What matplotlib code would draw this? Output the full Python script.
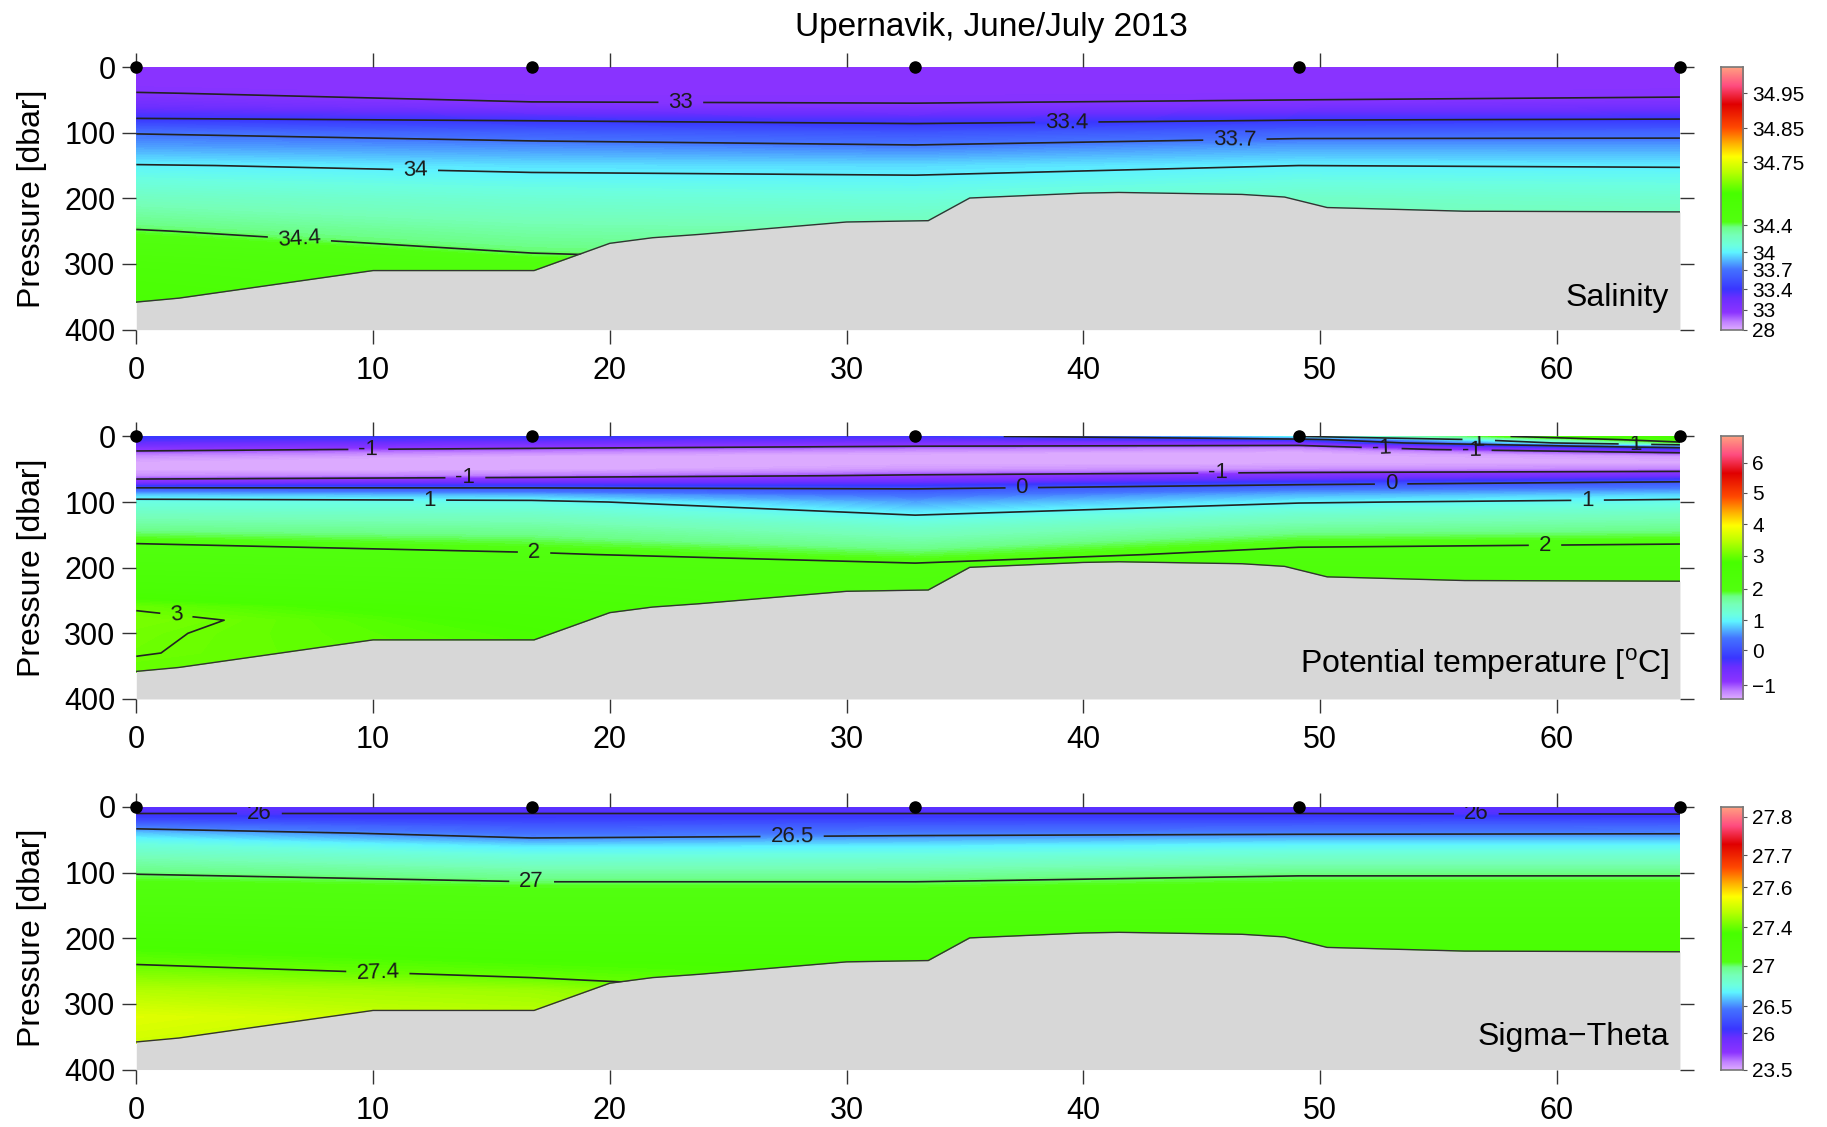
import numpy as np
import matplotlib
matplotlib.use('Agg')
from matplotlib import pyplot as plt
from matplotlib.colors import LinearSegmentedColormap

plt.rcParams['font.family'] = ['Liberation Sans', 'DejaVu Sans']
plt.rcParams['mathtext.fontset'] = 'custom'
plt.rcParams['mathtext.rm'] = 'Liberation Sans'

# Section geometry
stations_km = [0, 16.7, 32.9, 49.1, 65.2]
bottom_km = [0, 1.8, 10, 16.8, 20, 21.8, 23.75, 30, 33.45, 35.2, 40, 41.5, 46.7, 48.5, 50.3, 52, 56.1, 65.2]
bottom_dbar = [358, 352, 310, 310, 268.5, 260, 255, 236, 234, 199.5, 192, 191, 194, 198, 214, 215.6, 219.6, 220.6]

# Salinity profiles (one list per station)
sal_dbar = [0, 20, 40, 60, 80, 100, 120, 150, 200, 250, 300, 360]
salinity = [
    [32.6, 32.75, 33.02, 33.2, 33.42, 33.69, 33.8, 34.01, 34.22, 34.41, 34.5, 34.55],
    [32.6, 32.7, 32.85, 33.08, 33.38, 33.6, 33.76, 33.96, 34.15, 34.3, 34.45, 34.5],
    [32.6, 32.7, 32.85, 33.05, 33.33, 33.56, 33.71, 33.95, 34.12, 34.28, 34.4, 34.45],
    [32.6, 32.72, 32.88, 33.12, 33.39, 33.62, 33.8, 34.0, 34.2, 34.3, 34.4, 34.45],
    [32.65, 32.78, 32.94, 33.15, 33.41, 33.63, 33.8, 33.99, 34.17, 34.3, 34.4, 34.45],
]
sal_levels = [33, 33.4, 33.7, 34, 34.4]
sal_labels = [(23, 50), (39.3, 80), (46.4, 106), (11.8, 156), (6.9, 257)]
sal_ticks = [28, 33, 33.4, 33.7, 34, 34.4, 34.75, 34.85, 34.95]
sal_frac = [0, 0.076, 0.153, 0.229, 0.294, 0.397, 0.637, 0.767, 0.90]
sal_top = 35.03

# Potential temperature profiles
temp_dbar = [0, 5, 10, 15, 20, 25, 30, 40, 50, 60, 70, 80, 90, 100, 120, 140, 160, 180, 200, 230, 260, 280, 300, 330, 360]
temperature = [
    [-0.2, -0.35, -0.5, -0.7, -0.92, -1.1, -1.25, -1.4, -1.45, -1.25, -0.75, 0.15, 0.8, 1.15, 1.45, 1.7, 1.97, 2.15, 2.3, 2.55, 2.97, 3.08, 3.03, 3.01, 2.95],
    [-0.2, -0.4, -0.6, -0.85, -1.08, -1.25, -1.38, -1.5, -1.45, -1.15, -0.55, 0.1, 0.7, 1.1, 1.4, 1.65, 1.85, 2.03, 2.2, 2.4, 2.6, 2.72, 2.8, 2.85, 2.85],
    [-0.3, -0.5, -0.75, -1.0, -1.2, -1.35, -1.45, -1.5, -1.3, -0.95, -0.5, 0.0, 0.35, 0.6, 1.0, 1.35, 1.6, 1.85, 2.08, 2.2, 2.3, 2.35, 2.4, 2.4, 2.4],
    [1.0, -0.2, -0.7, -1.1, -1.3, -1.4, -1.5, -1.5, -1.25, -0.75, -0.2, 0.35, 0.7, 0.97, 1.35, 1.65, 1.92, 2.1, 2.25, 2.3, 2.35, 2.35, 2.4, 2.4, 2.4],
    [2.8, 2.4, 1.85, 0.4, -0.45, -1.0, -1.3, -1.45, -1.2, -0.6, 0.05, 0.45, 0.85, 1.1, 1.45, 1.7, 1.97, 2.12, 2.25, 2.3, 2.35, 2.35, 2.4, 2.4, 2.4],
]
temp_levels = [-1, 0, 1, 2, 3]
temp_labels = [(9.8, 20), (13.9, 63), (12.4, 95), (37.4, 78), (45.7, 58), (53, 71),
               (61.3, 97), (16.8, 177), (59.5, 163), (1.7, 270),
               (52.6, 20), (56.4, 28), (56.7, 7), (63.3, 10)]
temp_ticks = [-1, 0, 1, 2, 3, 4, 5, 6]
temp_frac = [0.053, 0.186, 0.299, 0.419, 0.545, 0.666, 0.785, 0.899]
temp_bottom, temp_top = -1.4, 6.9

# Sigma-theta profiles
sig_dbar = [0, 10, 20, 30, 40, 50, 60, 80, 100, 120, 150, 200, 240, 280, 320, 360]
sigma = [
    [25.85, 26.0, 26.2, 26.45, 26.6, 26.7, 26.78, 26.9, 26.99, 27.07, 27.15, 27.3, 27.4, 27.47, 27.52, 27.5],
    [25.85, 26.0, 26.15, 26.3, 26.42, 26.53, 26.65, 26.8, 26.93, 27.03, 27.12, 27.25, 27.35, 27.45, 27.48, 27.5],
    [25.85, 26.0, 26.17, 26.33, 26.46, 26.57, 26.67, 26.81, 26.93, 27.03, 27.12, 27.24, 27.32, 27.38, 27.42, 27.45],
    [25.85, 26.0, 26.18, 26.35, 26.48, 26.6, 26.7, 26.85, 26.98, 27.06, 27.14, 27.25, 27.32, 27.38, 27.42, 27.45],
    [25.85, 25.98, 26.2, 26.37, 26.49, 26.6, 26.7, 26.85, 26.98, 27.06, 27.14, 27.25, 27.32, 27.38, 27.42, 27.45],
]
sig_levels = [26, 26.5, 27, 27.4]
sig_labels = [(5.2, 10), (56.6, 10), (27.7, 45), (16.7, 113), (10.2, 255)]
sig_ticks = [23.5, 26, 26.5, 27, 27.4, 27.6, 27.7, 27.8]
sig_frac = [0, 0.139, 0.241, 0.395, 0.541, 0.695, 0.816, 0.963]
sig_top = 27.83

# colour scale
cmap_pos = [0.0, 0.03, 0.065, 0.12, 0.155, 0.23, 0.295, 0.32, 0.36, 0.39, 0.41, 0.52,
            0.60, 0.66, 0.71, 0.77, 0.86, 0.93, 1.0]
cmap_hex = ['#dcaaff', '#c080ff', '#8c34ff', '#6a2eff', '#3a36ff', '#4474ff', '#5ef4ff',
            '#6cffe0', '#76ffb8', '#6cff88', '#52ff10', '#48ff00', '#b8ff00', '#ffff00',
            '#ffb000', '#ff4a00', '#e00000', '#ff4c80', '#ffa080']
cmap = LinearSegmentedColormap.from_list('odv', list(zip(cmap_pos, cmap_hex)))


def draw_panel(ax, cax, depths, values, a_vals, a_frac, levels, label_pos, name, ticks):
    X, Y = np.meshgrid(stations_km, depths)
    Z = np.array(values).T
    band_frac = np.linspace(0, 1, 257)
    band_vals = np.interp(band_frac, a_frac, a_vals)
    cols = cmap((band_frac[:-1] + band_frac[1:]) / 2)
    Zc = np.clip(Z, band_vals[0] + 1e-6, band_vals[-1] - 1e-6)
    ax.contourf(X, Y, Zc, levels=band_vals, colors=cols, antialiased=False, zorder=1)
    cs = ax.contour(X, Y, Z, levels=levels, colors='#222222', linewidths=1.2,
                    linestyles='solid', zorder=2)
    txt = ax.clabel(cs, fmt='%g', manual=label_pos, inline=True, inline_spacing=10, fontsize=16)
    for t in txt:
        t.set_color('#1a1a1a')
        t.set_zorder(6)
    ax.fill_between(bottom_km, bottom_dbar, 400, color='#d7d7d7', lw=0, zorder=3)
    ax.plot(bottom_km, bottom_dbar, color='#333333', lw=1.0, zorder=4)
    ax.plot(stations_km, [0] * len(stations_km), 'o', color='k', ms=8, clip_on=False, zorder=7)

    ax.set_xlim(0, stations_km[-1])
    ax.set_ylim(400, 0)
    ax.set_xticks([0, 10, 20, 30, 40, 50, 60])
    ax.set_yticks([0, 100, 200, 300, 400])
    ax.tick_params(direction='out', length=10, width=1, color='#333333', top=True, right=True,
                   labelsize=22)
    ax.tick_params(axis='x', pad=9)
    ax.tick_params(axis='y', pad=5)
    for s in ax.spines.values():
        s.set_visible(False)
    ax.set_ylabel('Pressure [dbar]', fontsize=23)
    ax.yaxis.set_label_coords(-0.058, 0.5)
    ax.text(0.993, 0.065, name, transform=ax.transAxes, ha='right', va='bottom',
            fontsize=23, zorder=8)

    # colour bar
    grad = cmap(np.linspace(0, 1, 256))[:, None, :]
    cax.imshow(grad, origin='lower', aspect='auto', extent=(0, 1, 0, 1))
    cax.set_xticks([])
    cax.set_yticks(np.interp(ticks, a_vals, a_frac))
    cax.set_yticklabels([('%g' % v).replace('-', '\u2212') for v in ticks])
    cax.yaxis.tick_right()
    cax.tick_params(axis='y', length=3, width=0.8, color='#555555', labelsize=15, pad=4)
    for s in cax.spines.values():
        s.set_color('#777777')
        s.set_linewidth(1.2)


fig = plt.figure(figsize=(18.27, 11.27), dpi=100)

h = 0.233
ax1 = fig.add_axes([0.0746, 0.7075, 0.8449, h])
ax2 = fig.add_axes([0.0746, 0.3798, 0.8449, h])
ax3 = fig.add_axes([0.0746, 0.0510, 0.8449, h])
cax1 = fig.add_axes([0.9418, 0.7075, 0.0121, h])
cax2 = fig.add_axes([0.9418, 0.3798, 0.0121, h])
cax3 = fig.add_axes([0.9418, 0.0510, 0.0121, h])

draw_panel(ax1, cax1, sal_dbar, salinity, sal_ticks + [sal_top], sal_frac + [1.0],
           sal_levels, sal_labels, 'Salinity', sal_ticks)
draw_panel(ax2, cax2, temp_dbar, temperature, [temp_bottom] + temp_ticks + [temp_top],
           [0.0] + temp_frac + [1.0], temp_levels, temp_labels,
           r'Potential temperature [$^{\rm o}$C]', temp_ticks)
draw_panel(ax3, cax3, sig_dbar, sigma, sig_ticks + [sig_top], sig_frac + [1.0],
           sig_levels, sig_labels, 'Sigma\u2212Theta', sig_ticks)

fig.text(0.5427, 0.976, 'Upernavik, June/July 2013', ha='center', va='center', fontsize=24)

fig.savefig('out.png', dpi=100)
